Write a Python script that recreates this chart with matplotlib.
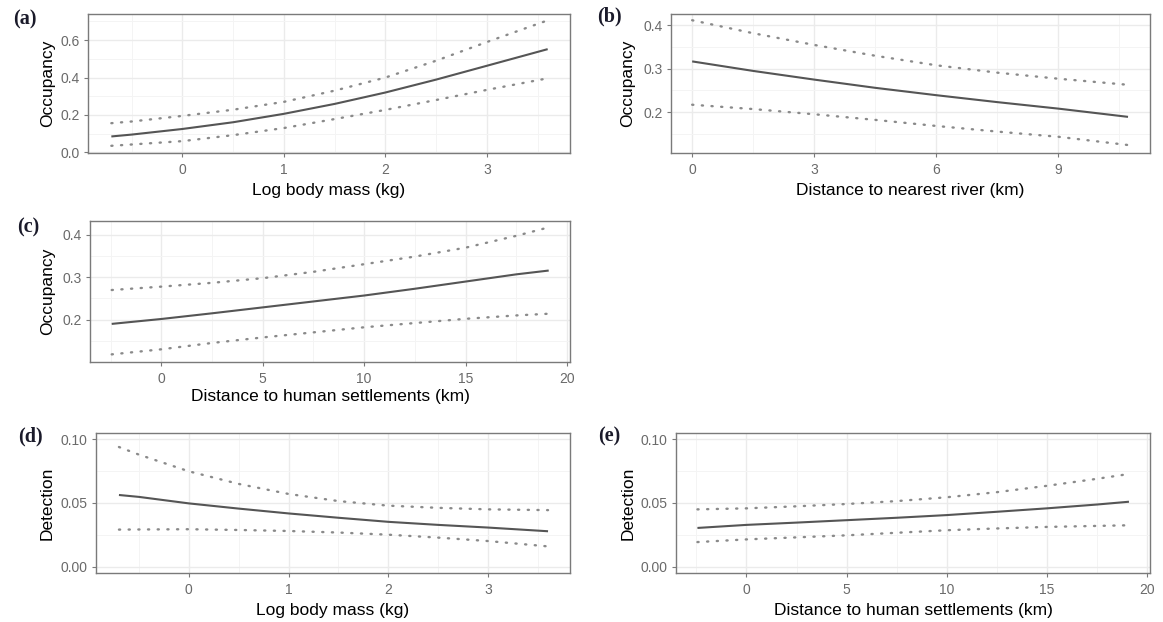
import matplotlib.pyplot as plt
from matplotlib.ticker import FixedLocator

plt.rcParams['font.family'] = ['Liberation Sans', 'DejaVu Sans']

# (a) occupancy vs log body mass
mass_x = [-0.7, -0.5, 0.0, 0.5, 1.0, 1.5, 2.0, 2.5, 3.0, 3.6]
occ_mass = [0.085, 0.095, 0.125, 0.161, 0.206, 0.259, 0.32, 0.389, 0.463, 0.552]
occ_mass_hi = [0.156, 0.165, 0.195, 0.228, 0.27, 0.33, 0.40, 0.49, 0.59, 0.706]
occ_mass_lo = [0.035, 0.042, 0.06, 0.092, 0.13, 0.178, 0.227, 0.28, 0.334, 0.396]

# (b) occupancy vs distance to river
river_x = [0.0, 1.5, 3.0, 4.5, 6.0, 7.5, 9.0, 10.71]
occ_river = [0.317, 0.295, 0.275, 0.256, 0.239, 0.223, 0.208, 0.189]
occ_river_hi = [0.412, 0.382, 0.355, 0.330, 0.308, 0.291, 0.277, 0.263]
occ_river_lo = [0.217, 0.207, 0.195, 0.182, 0.168, 0.155, 0.143, 0.124]

# (c) occupancy vs distance to settlements
settle_x = [-2.45, 0.0, 2.5, 5.0, 7.5, 10.0, 12.5, 15.0, 17.5, 19.1]
occ_settle = [0.19, 0.2016, 0.215, 0.229, 0.243, 0.257, 0.273, 0.29, 0.307, 0.316]
occ_settle_hi = [0.27, 0.278, 0.287, 0.298, 0.313, 0.331, 0.349, 0.37, 0.398, 0.418]
occ_settle_lo = [0.118, 0.13, 0.145, 0.158, 0.170, 0.182, 0.192, 0.202, 0.210, 0.214]

# (d) detection vs log body mass
det_mass = [0.0563, 0.0548, 0.0497, 0.0456, 0.0418, 0.0384, 0.0352, 0.0328, 0.0307, 0.0278]
det_mass_hi = [0.094, 0.088, 0.0749, 0.065, 0.0571, 0.0515, 0.0479, 0.0462, 0.045, 0.0444]
det_mass_lo = [0.0291, 0.0292, 0.0294, 0.0288, 0.028, 0.0268, 0.0251, 0.0228, 0.0201, 0.0159]

# (e) detection vs distance to settlements
det_settle = [0.0304, 0.0328, 0.0346, 0.0365, 0.0384, 0.0405, 0.0431, 0.0458, 0.0488, 0.051]
det_settle_hi = [0.045, 0.0458, 0.0474, 0.0492, 0.0515, 0.0545, 0.0585, 0.0635, 0.069, 0.0728]
det_settle_lo = [0.0193, 0.0214, 0.023, 0.0246, 0.0266, 0.0286, 0.030, 0.0312, 0.032, 0.0325]

W, H = 1163, 622
fig = plt.figure(figsize=(W / 100, H / 100), dpi=100)


def make_ax(left, right, top, bottom, xlab_y, ylab_x):
    ax = fig.add_axes([left / W, (H - bottom) / H, (right - left) / W, (bottom - top) / H])
    # label centres in pixels, converted to axes fractions
    ax._xlab = -(xlab_y - bottom) / (bottom - top)
    ax._ylab = (ylab_x - left) / (right - left)
    return ax


def style(ax, xmajor, xminor, ymajor, yminor, xlim, ylim, xlabel, ylabel, yfmt):
    ax.set_xlim(*xlim)
    ax.set_ylim(*ylim)
    ax.xaxis.set_major_locator(FixedLocator(xmajor))
    ax.xaxis.set_minor_locator(FixedLocator(xminor))
    ax.yaxis.set_major_locator(FixedLocator(ymajor))
    ax.yaxis.set_minor_locator(FixedLocator(yminor))
    ax.set_yticklabels([yfmt.format(v) for v in ymajor])
    ax.set_xticklabels([str(v) for v in xmajor])
    ax.grid(which='major', color='#ebebeb', lw=1.0)
    ax.grid(which='minor', color='#f4f4f4', lw=0.7)
    ax.set_axisbelow(True)
    for s in ax.spines.values():
        s.set_color('#7a7a7a')
        s.set_linewidth(1.0)
    ax.tick_params(which='major', length=3, width=0.8, color='#7a7a7a',
                   labelsize=10, labelcolor='#6a6a6a', pad=3)
    ax.tick_params(axis='x', which='major', pad=4)
    ax.tick_params(which='minor', length=0)
    ax.set_xlabel(xlabel, fontsize=12.5)
    ax.set_ylabel(ylabel, fontsize=12.5)
    ax.xaxis.set_label_coords(0.5, ax._xlab)
    ax.yaxis.set_label_coords(ax._ylab, 0.5)
    ax.xaxis.label.set_va('center')
    ax.yaxis.label.set_va('center')
    ax.yaxis.label.set_rotation_mode('default')


def curves(ax, x, mid, hi, lo):
    ax.plot(x, mid, color='#555555', lw=1.5, solid_capstyle='butt')
    for y in (hi, lo):
        ax.plot(x, y, color='#8a8a8a', lw=1.7, linestyle=(0, (0.5, 3.6)),
                dash_capstyle='round')


def panel_label(x, y, s):
    fig.text(x / W, 1 - y / H, s, fontsize=14.5, fontweight='bold',
             family=['Liberation Serif', 'DejaVu Serif'], color='#1a1a2a',
             va='center', ha='left')


ax_a = make_ax(88, 570, 14, 153, 190, 47.5)
curves(ax_a, mass_x, occ_mass, occ_mass_hi, occ_mass_lo)
style(ax_a, [0, 1, 2, 3], [-0.5, 0.5, 1.5, 2.5, 3.5], [0.0, 0.2, 0.4, 0.6],
      [0.1, 0.3, 0.5, 0.7], (-0.93, 3.82), (-0.0035, 0.74),
      'Log body mass (kg)', 'Occupancy', '{:.1f}')

ax_b = make_ax(671, 1150, 14, 153, 190, 628)
curves(ax_b, river_x, occ_river, occ_river_hi, occ_river_lo)
style(ax_b, [0, 3, 6, 9], [1.5, 4.5, 7.5, 10.5], [0.2, 0.3, 0.4],
      [0.15, 0.25, 0.35], (-0.52, 11.25), (0.1056, 0.4264),
      'Distance to nearest river (km)', 'Occupancy', '{:.1f}')

ax_c = make_ax(90, 570, 221, 362, 396, 47.5)
curves(ax_c, settle_x, occ_settle, occ_settle_hi, occ_settle_lo)
style(ax_c, [0, 5, 10, 15, 20], [-2.5, 2.5, 7.5, 12.5, 17.5], [0.2, 0.3, 0.4],
      [0.15, 0.25, 0.35], (-3.52, 20.15), (0.1, 0.433),
      'Distance to human settlements (km)', 'Occupancy', '{:.1f}')

ax_d = make_ax(96, 570, 433, 573, 610, 47.5)
curves(ax_d, mass_x, det_mass, det_mass_hi, det_mass_lo)
style(ax_d, [0, 1, 2, 3], [-0.5, 0.5, 1.5, 2.5, 3.5], [0.0, 0.05, 0.10],
      [0.025, 0.075], (-0.93, 3.82), (-0.005, 0.105),
      'Log body mass (kg)', 'Detection', '{:.2f}')

ax_e = make_ax(676, 1150, 433, 573, 610, 628)
curves(ax_e, settle_x, det_settle, det_settle_hi, det_settle_lo)
style(ax_e, [0, 5, 10, 15, 20], [-2.5, 2.5, 7.5, 12.5, 17.5], [0.0, 0.05, 0.10],
      [0.025, 0.075], (-3.52, 20.15), (-0.005, 0.105),
      'Distance to human settlements (km)', 'Detection', '{:.2f}')

panel_label(13, 19, '(a)')
panel_label(597, 16, '(b)')
panel_label(17, 227, '(c)')
panel_label(18, 436, '(d)')
panel_label(598, 436, '(e)')

fig.savefig('out.png', dpi=100, facecolor='white')
